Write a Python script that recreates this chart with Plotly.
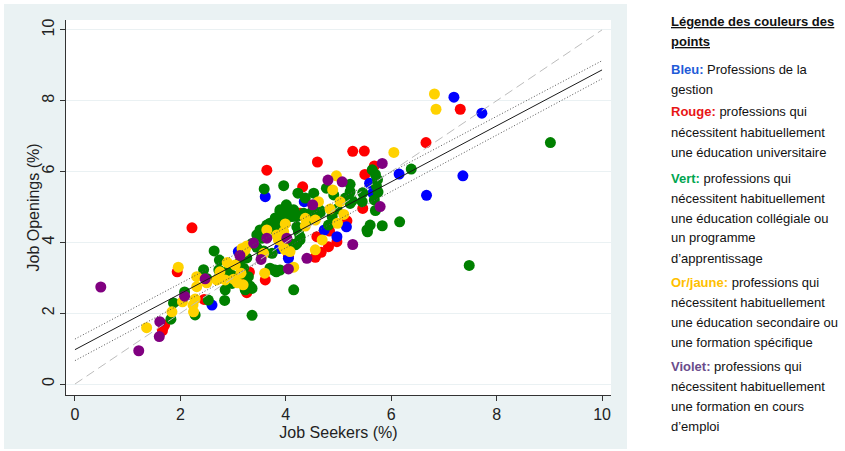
import plotly.graph_objects as go

# ---------------- data ----------------
blue_x = [2.60, 3.10, 3.61, 3.88, 4.05, 4.35, 4.73, 4.97, 5.15, 5.59, 5.65, 6.15, 6.67, 7.19, 7.36, 7.72]
blue_y = [2.23, 3.74, 5.29, 3.83, 3.55, 5.15, 4.35, 4.16, 4.44, 5.67, 5.39, 5.93, 5.33, 8.10, 5.88, 7.65]

red_x = [1.66, 1.70, 1.94, 2.22, 2.45, 3.26, 3.31, 3.31, 3.26, 3.61, 3.64, 4.05, 4.32, 4.27, 4.56,
         4.59, 4.67, 4.81, 4.83, 4.97, 5.16, 5.27, 5.49, 5.46, 5.50, 5.68, 6.66, 7.31, 4.60]
red_y = [1.51, 1.66, 3.17, 4.41, 2.39, 2.58, 2.70, 3.16, 2.98, 2.94, 6.04, 3.60, 5.57, 4.82, 3.58,
         4.16, 3.72, 3.88, 4.32, 4.02, 4.61, 6.57, 6.58, 4.96, 5.92, 6.16, 6.82, 7.76, 6.27]

green_x = [1.82, 1.87, 2.08, 2.28, 2.44, 2.53, 2.64, 2.73, 2.74, 2.84, 2.88, 3.26, 3.23, 3.32, 3.36,
           3.58, 3.59, 3.70, 3.74, 3.82, 3.70, 3.77, 3.45, 3.55, 3.96, 4.01, 4.05, 4.15, 4.21, 4.27,
           4.23, 4.24, 4.21, 4.15, 4.12, 3.95, 4.03, 4.01, 3.89, 3.80, 3.61, 4.37, 4.64, 4.65, 4.53,
           4.77, 4.81, 4.91, 4.97, 5.13, 5.22, 5.22, 5.26, 5.22, 5.45, 5.46, 5.54, 5.60, 5.55, 5.64,
           5.70, 5.74, 5.72, 5.75, 5.68, 5.70, 5.83, 6.16, 6.38, 9.02, 7.48, 3.45, 3.51, 3.64, 3.74,
           3.80, 3.89, 3.99, 4.08, 4.15, 4.21, 3.55, 3.13, 3.20, 3.29, 2.50, 2.72, 2.94, 3.12, 2.98,
           3.26, 3.36, 2.85, 4.08, 4.34, 4.40, 4.27, 4.18, 3.80, 4.08, 3.36, 3.77, 3.89, 3.89, 3.99,
           4.02, 3.96, 4.50, 4.88]
green_y = [1.83, 2.29, 2.60, 1.95, 3.23, 2.37, 3.76, 3.22, 3.50, 2.36, 3.17, 3.56, 2.66, 2.77, 1.94,
           3.76, 5.51, 3.27, 3.69, 3.17, 4.54, 4.40, 3.86, 4.12, 5.60, 3.81, 3.97, 2.66, 3.97, 4.16,
           5.39, 4.30, 4.44, 4.92, 4.73, 4.83, 4.69, 5.06, 4.92, 4.69, 4.41, 5.25, 4.92, 4.82, 5.39,
           5.53, 4.49, 5.34, 4.94, 5.25, 5.64, 5.43, 5.18, 5.10, 5.15, 5.40, 4.35, 4.49, 4.30, 6.05,
           5.92, 5.77, 5.59, 5.42, 5.20, 4.90, 4.47, 4.58, 6.07, 6.82, 3.35, 4.21, 4.35, 4.49, 4.44,
           4.35, 4.56, 4.71, 4.87, 4.82, 4.73, 3.64, 3.45, 3.27, 3.03, 2.98, 2.98, 3.13, 3.08, 2.84,
           2.77, 2.70, 2.66, 4.92, 4.82, 4.63, 4.07, 3.93, 3.22, 3.97, 3.97, 3.22, 3.22, 4.87, 4.92,
           4.73, 4.58, 4.87, 4.73]

yellow_x = [1.36, 1.84, 1.96, 2.04, 2.24, 2.25, 2.31, 2.31, 2.50, 2.28, 2.69, 2.75, 2.85, 2.89, 3.01,
            3.04, 3.08, 3.15, 3.17, 3.19, 3.23, 3.26, 3.20, 3.58, 3.60, 3.64, 3.83, 3.86, 3.96, 3.96,
            3.99, 3.99, 4.08, 4.15, 4.37, 4.37, 4.56, 4.62, 4.56, 4.69, 4.84, 4.89, 4.96, 4.98, 5.03,
            5.10, 6.05, 6.82, 6.85]
yellow_y = [1.59, 2.04, 3.30, 2.32, 2.23, 2.04, 3.03, 2.75, 2.86, 2.40, 2.94, 3.17, 2.94, 3.43, 2.96,
            3.36, 2.86, 3.13, 3.83, 2.80, 3.79, 3.90, 3.74, 3.69, 3.13, 4.35, 4.21, 4.07, 3.86, 4.30,
            4.52, 3.79, 3.74, 3.30, 4.68, 4.46, 4.63, 5.15, 3.79, 4.07, 4.94, 5.48, 5.88, 4.54, 5.15,
            4.79, 6.54, 8.19, 7.76]

purple_x = [0.49, 1.21, 1.60, 1.61, 2.08, 2.47, 3.13, 3.39, 3.53, 3.64, 4.02, 4.05, 4.40, 4.51, 4.80,
            5.07, 5.27, 5.79, 5.83]
purple_y = [2.74, 0.94, 1.34, 1.76, 2.48, 2.97, 3.63, 3.98, 3.52, 4.12, 4.12, 3.25, 3.55, 5.06, 5.76,
            5.71, 3.94, 5.01, 6.23]

# fitted line, its confidence band, and the 45-degree reference
fit_x = [0, 10]
fit_y = [0.97, 8.87]
ci_hi_y = [1.27, 9.13]
ci_lo_y = [0.66, 8.62]
diag_x = [0, 10]
diag_y = [0, 10]

x_ticks = [0, 2, 4, 6, 8, 10]
y_ticks = [0, 2, 4, 6, 8, 10]
x_title = "Job Seekers (%)"
y_title = "Job Openings (%)"

legend_lines = [
    "<b><u>Légende des couleurs des</u></b>",
    "<b><u>points</u></b>",
    "<b><span style='color:#1F5BD8'>Bleu:</span></b> Professions de la",
    "gestion",
    "<b><span style='color:#E81515'>Rouge:</span></b> professions qui",
    "nécessitent habituellement",
    "une éducation universitaire",
    "<b><span style='color:#00A550'>Vert:</span></b> professions qui",
    "nécessitent habituellement",
    "une éducation collégiale ou",
    "un programme",
    "d’apprentissage",
    "<b><span style='color:#FFC000'>Or/jaune:</span></b> professions qui",
    "nécessitent habituellement",
    "une éducation secondaire ou",
    "une formation spécifique",
    "<b><span style='color:#6A4C8C'>Violet:</span></b> professions qui",
    "nécessitent habituellement",
    "une formation en cours",
    "d’emploi",
]
legend_line_px = [22, 42, 69, 89, 112, 132, 152, 178, 198, 218, 238, 258,
                  282, 302, 322, 342, 366, 386, 406, 426]

# ---------------- figure ----------------
W, H = 845, 451
L, R, T, B = 66, 611, 20, 395   # plot area in pixels
FONT = "Liberation Sans, Arial, sans-serif"

def px_to_paper_x(px):
    return (px - L) / (R - L)

def px_to_paper_y(py):
    return (B - py) / (B - T)

fig = go.Figure()

groups = [
    (red_x, red_y, "#FF0000"),
    (blue_x, blue_y, "#0000FF"),
    (green_x, green_y, "#008000"),
    (yellow_x, yellow_y, "#FFD200"),
    (purple_x, purple_y, "#800080"),
]
for xs, ys, col in groups:
    fig.add_trace(go.Scatter(x=xs, y=ys, mode="markers",
                             marker=dict(color=col, size=11, line=dict(width=0)),
                             showlegend=False, hoverinfo="skip"))

fig.add_trace(go.Scatter(x=diag_x, y=diag_y, mode="lines",
                         line=dict(color="#BDBDBD", width=1, dash="9px,5px"),
                         showlegend=False, hoverinfo="skip"))
fig.add_trace(go.Scatter(x=fit_x, y=ci_hi_y, mode="lines",
                         line=dict(color="#555555", width=1, dash="1px,2px"),
                         showlegend=False, hoverinfo="skip"))
fig.add_trace(go.Scatter(x=fit_x, y=ci_lo_y, mode="lines",
                         line=dict(color="#555555", width=1, dash="1px,2px"),
                         showlegend=False, hoverinfo="skip"))
fig.add_trace(go.Scatter(x=fit_x, y=fit_y, mode="lines",
                         line=dict(color="#1A1A1A", width=1),
                         showlegend=False, hoverinfo="skip"))

# white strips outside the grey graph region
white_rects = [
    (px_to_paper_x(627), -2, 3, 3),
    (-2, -2, px_to_paper_x(4), 3),
    (-2, px_to_paper_y(4), 3, 3),
    (-2, -2, 3, px_to_paper_y(449)),
]
shapes = [dict(type="rect", xref="paper", yref="paper", x0=a, y0=b, x1=c, y1=d,
               fillcolor="white", line=dict(width=0), layer="below")
          for a, b, c, d in white_rects]

annotations = []
for txt, py in zip(legend_lines, legend_line_px):
    annotations.append(dict(text=txt, xref="paper", yref="paper",
                            x=px_to_paper_x(669), y=px_to_paper_y(py),
                            xanchor="left", yanchor="middle", showarrow=False,
                            font=dict(family=FONT, size=13, color="#111111"), align="left"))

# y-axis title placed as rotated text
annotations.append(dict(text=y_title, xref="paper", yref="paper",
                        x=px_to_paper_x(33), y=0.5, textangle=-90,
                        xanchor="center", yanchor="middle", showarrow=False,
                        font=dict(family=FONT, size=16, color="#222222")))

axis_common = dict(showline=True, linecolor="#333333", linewidth=1, ticks="outside",
                   ticklen=5, tickcolor="#333333", tickwidth=1, zeroline=False,
                   tickfont=dict(family=FONT, size=16, color="#222222"),
                   title_font=dict(family=FONT, size=16, color="#222222"),
                   automargin=False)

fig.update_layout(
    width=W, height=H,
    margin=dict(l=L, r=W - R, t=T, b=H - B, pad=0),
    paper_bgcolor="#EAF2F3",
    plot_bgcolor="white",
    shapes=shapes,
    annotations=annotations,
    xaxis=dict(range=[-0.17, 10.17], tickvals=x_ticks, showgrid=False,
               title=dict(text=x_title, standoff=4), **axis_common),
    yaxis=dict(range=[-0.31, 10.28], tickvals=y_ticks, showgrid=True,
               gridcolor="#EAF1F3", gridwidth=1, tickangle=-90, **axis_common),
    font=dict(family=FONT),
)

fig.write_html("out.html")
